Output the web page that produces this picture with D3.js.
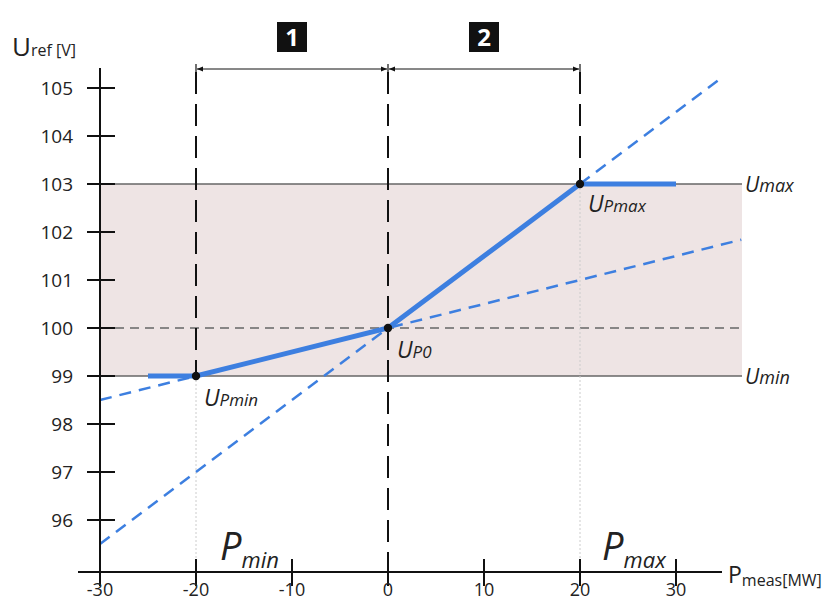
<!DOCTYPE html>
<html><head><meta charset="utf-8">
<script src="https://cdn.jsdelivr.net/npm/d3@7"></script>
<style>body{margin:0;background:#fff}svg{display:block}text{font-family:"Open Sans","Noto Sans",sans-serif;}</style>
</head><body>
<script>
const xTicks = [-30,-20,-10,0,10,20,30];
const yTicks = [96,97,98,99,100,101,102,103,104,105];
const Umin = 99, Umax = 103, U0 = 100;
const Pmin = -20, Pmax = 20;
const solidLine = [[-25,99],[-20,99],[0,100],[20,103],[30,103]];
const dashLow = [[-30,98.5],[36.8,101.84]];
const dashHigh = [[-30,95.5],[34.5,105.175]];
const points = [[-20,99,"min"],[0,100,"0"],[20,103,"max"]];
const sections = [{label:"1",from:-20,to:0},{label:"2",from:0,to:20}];

const W=835,H=600;
const svg=d3.select("body").append("svg").attr("width",W).attr("height",H);
const x=d3.scaleLinear().domain([-30,30]).range([100,676]);
const y=d3.scaleLinear().domain([99,103]).range([376,184]);
const blue="#3d7fe0";

// band
const xr = x.invert(742);
svg.append("rect").attr("x",x(-30)).attr("y",y(Umax)).attr("width",x(xr)-x(-30)).attr("height",y(Umin)-y(Umax)).attr("fill","#eee4e4");
[Umin,Umax].forEach(v=>svg.append("line").attr("x1",x(-30)).attr("x2",x(xr)).attr("y1",y(v)).attr("y2",y(v)).attr("stroke","#666").attr("stroke-width",1.6));
svg.append("line").attr("x1",x(-30)).attr("x2",x(xr)).attr("y1",y(U0)).attr("y2",y(U0)).attr("stroke","#666").attr("stroke-width",1.6).attr("stroke-dasharray","9,6");

// faint guides
svg.append("line").attr("x1",x(Pmin)).attr("x2",x(Pmin)).attr("y1",y(Umin)).attr("y2",572).attr("stroke","#ccc").attr("stroke-width",1).attr("stroke-dasharray","2,2");
svg.append("line").attr("x1",x(Pmax)).attr("x2",x(Pmax)).attr("y1",y(Umax)).attr("y2",572).attr("stroke","#ccc").attr("stroke-width",1).attr("stroke-dasharray","2,2");
const vdash=(xv,y1,y2)=>svg.append("line").attr("x1",x(xv)).attr("x2",x(xv)).attr("y1",y1).attr("y2",y2).attr("stroke","#111").attr("stroke-width",2).attr("stroke-dasharray","22,10");
vdash(Pmin,72,y(Umin));
vdash(0,72,566);
vdash(Pmax,72,y(Umax));

// dimension arrows
const defs=svg.append("defs");
defs.append("marker").attr("id","ah").attr("viewBox","0 0 10 10").attr("refX",10).attr("refY",5).attr("markerWidth",8).attr("markerHeight",6).attr("orient","auto-start-reverse")
 .append("path").attr("d","M0,1 L10,5 L0,9 Z").attr("fill","#111");
sections.forEach(s=>{
  svg.append("line").attr("x1",x(s.from)+1).attr("x2",x(s.to)-1).attr("y1",69).attr("y2",69).attr("stroke","#111").attr("stroke-width",1).attr("marker-start","url(#ah)").attr("marker-end","url(#ah)");
  const cx=(x(s.from)+x(s.to))/2;
  svg.append("rect").attr("x",cx-15).attr("y",22).attr("width",30).attr("height",30).attr("fill","#111");
  svg.append("text").attr("x",cx).attr("y",46).attr("text-anchor","middle").attr("fill","#fff").attr("font-size",24).attr("font-weight","bold").attr("font-family","Liberation Sans, Arial, sans-serif").text(s.label);
});
[Pmin,0,Pmax].forEach(v=>svg.append("line").attr("x1",x(v)).attr("x2",x(v)).attr("y1",64).attr("y2",74).attr("stroke","#111").attr("stroke-width",1.2));

const ln=d3.line().x(d=>x(d[0])).y(d=>y(d[1]));
[dashLow,dashHigh].forEach(d=>svg.append("path").attr("d",ln(d)).attr("fill","none").attr("stroke",blue).attr("stroke-width",2.5).attr("stroke-dasharray","12,8"));
svg.append("path").attr("d",ln(solidLine)).attr("fill","none").attr("stroke",blue).attr("stroke-width",5);

points.forEach(p=>svg.append("circle").attr("cx",x(p[0])).attr("cy",y(p[1])).attr("r",4.2).attr("fill","#111"));
const lblPos={min:[8,30],"0":[9,30],max:[8,28]};
points.forEach(p=>{
  const t=svg.append("text").attr("x",x(p[0])+lblPos[p[2]][0]).attr("y",y(p[1])+lblPos[p[2]][1]).attr("font-style","italic").attr("fill","#222").attr("font-size",23);
  t.append("tspan").text("U");
  t.append("tspan").attr("font-size",17).text("P"+p[2]);
});

// axes
svg.append("line").attr("x1",x(-30)).attr("x2",x(-30)).attr("y1",68).attr("y2",572).attr("stroke","#111").attr("stroke-width",2);
svg.append("line").attr("x1",78).attr("x2",722).attr("y1",572).attr("y2",572).attr("stroke","#111").attr("stroke-width",2);
yTicks.forEach(v=>{
  svg.append("line").attr("x1",x(-30)-13).attr("x2",x(-30)+15).attr("y1",y(v)).attr("y2",y(v)).attr("stroke","#111").attr("stroke-width",2);
  svg.append("text").attr("x",73).attr("y",y(v)+7).attr("text-anchor","end").attr("font-size",19).attr("fill","#222").text(v);
});
xTicks.forEach(v=>{
  svg.append("line").attr("x1",x(v)).attr("x2",x(v)).attr("y1",559).attr("y2",586).attr("stroke","#111").attr("stroke-width",2);
  svg.append("text").attr("x",x(v)).attr("y",596).attr("text-anchor","middle").attr("font-size",18).attr("fill","#222").text(v);
});

const yt=svg.append("text").attr("x",12).attr("y",56).attr("fill","#222");
yt.append("tspan").attr("font-size",26).text("U");
yt.append("tspan").attr("font-size",16).text("ref [V]");
const xt=svg.append("text").attr("x",728).attr("y",583).attr("fill","#222");
xt.append("tspan").attr("font-size",23).text("P");
xt.append("tspan").attr("font-size",16).attr("dy",3).text("meas[MW]");

[[Umax,"max"],[Umin,"min"]].forEach(d=>{
  const t=svg.append("text").attr("x",745).attr("y",y(d[0])+8).attr("font-style","italic").attr("fill","#222").attr("font-size",21);
  t.append("tspan").text("U");t.append("tspan").attr("font-size",18).text(d[1]);
});
[[Pmin,"min",220],[Pmax,"max",602]].forEach(d=>{
  const t=svg.append("text").attr("x",d[2]).attr("y",560).attr("font-style","italic").attr("fill","#222");
  t.append("tspan").attr("font-size",38).text("P");
  t.append("tspan").attr("font-size",22).attr("dy",8).text(d[1]);
});
</script>
</body></html>
